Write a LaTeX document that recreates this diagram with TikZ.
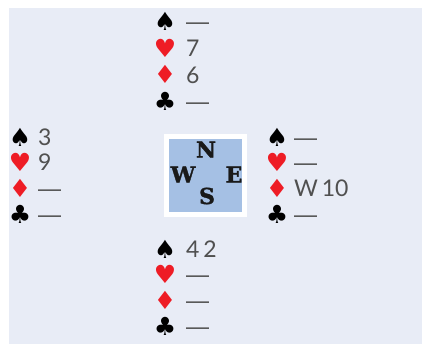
\documentclass[tikz,border=0pt]{standalone}
\usepackage{fontspec}
\setmainfont{Lato}
\newfontfamily\suitfont{DejaVu Sans}
\newfontfamily\dashfont{Liberation Sans}
\newfontfamily\compfont[FakeBold=1.5]{DejaVu Serif}
\newcommand{\dsh}{{\dashfont —}}
\definecolor{bgcol}{HTML}{E8ECF6}
\definecolor{boxblue}{HTML}{A5C0E4}
\definecolor{suitred}{HTML}{EE1C25}
\definecolor{cardgray}{HTML}{505050}
\tikzset{
  suit/.style={font=\suitfont\fontsize{25}{25}\selectfont, inner sep=0pt, anchor=center},
  blk/.style={suit, text=black},
  rd/.style={suit, text=suitred},
  card/.style={font=\fontsize{23}{23}\selectfont, text=cardgray, inner sep=0pt, anchor=west, text height=17pt, text depth=0pt},
  comp/.style={font=\compfont\bfseries\fontsize{22}{22}\selectfont, text=black!90, inner sep=0pt, anchor=center},
}
\begin{document}
\begin{tikzpicture}[x=1pt,y=-1pt]
\useasboundingbox (0,0) rectangle (422,345);
\fill[bgcol] (9,8) rectangle (422,344);
% compass box
\fill[white] (164,134) rectangle (247,217);
\fill[boxblue] (169,139) rectangle (242,212);
\node[comp] (cN) at (206,149.5) {N};
\node[comp] (cW) at (183,174.5) {W};
\node[comp] (cE) at (234,174.5) {E};
\node[comp] (cS) at (207,196) {S};
% North
\node[blk] (ns) at (165,21.5) {♠};  \node[card] (nst) at (186,21.5) {\dsh};
\node[rd]  (nh) at (165,48)   {♥};  \node[card] (nht) at (186,48)   {7};
\node[rd]  (nd) at (165,74.5) {♦};  \node[card] (ndt) at (186,74.5) {6};
\node[blk] (nc) at (165,101)  {♣};  \node[card] (nct) at (186,101)  {\dsh};
% West
\node[blk] (ws) at (20,137)   {♠};  \node[card] (wst) at (38,137)   {3};
\node[rd]  (wh) at (20,162)   {♥};  \node[card] (wht) at (38,162)   {9};
\node[rd]  (wd) at (20,188)   {♦};  \node[card] (wdt) at (38,188)   {\dsh};
\node[blk] (wc) at (20,214)   {♣};  \node[card] (wct) at (38,214)   {\dsh};
% East
\node[blk] (es) at (277,137)  {♠};  \node[card] (est) at (294,137)  {\dsh};
\node[rd]  (eh) at (277,162)  {♥};  \node[card] (eht) at (294,162)  {\dsh};
\node[rd]  (ed) at (277,188)  {♦};  \node[card] (edt) at (294,188)  {W\,10};
\node[blk] (ec) at (277,214)  {♣};  \node[card] (ect) at (294,214)  {\dsh};
% South
\node[blk] (ss) at (165,249)  {♠};  \node[card] (sst) at (186,249)  {4\,2};
\node[rd]  (sh) at (165,274)  {♥};  \node[card] (sht) at (186,274)  {\dsh};
\node[rd]  (sd) at (165,300)  {♦};  \node[card] (sdt) at (186,300)  {\dsh};
\node[blk] (sc) at (165,326)  {♣};  \node[card] (sct) at (186,326)  {\dsh};
\end{tikzpicture}
\end{document}
